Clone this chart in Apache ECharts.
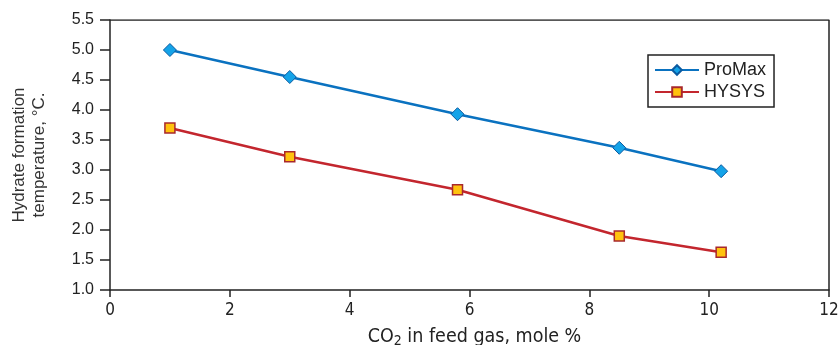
<!DOCTYPE html>
<html>
<head>
<meta charset="utf-8">
<script src="https://cdn.jsdelivr.net/npm/echarts@6/dist/echarts.min.js"></script>
<style>
  html, body { margin: 0; padding: 0; background: #fff; }
  #chart { width: 839px; height: 345px; }
</style>
</head>
<body>
<div id="chart"></div>
<script>
// values
const co2 = [1.0, 3.0, 5.8, 8.5, 10.2];
const promax = [5.0, 4.55, 3.93, 3.37, 2.98];
const hysys = [3.7, 3.22, 2.67, 1.9, 1.63];

const pair = (xs, ys) => xs.map((x, i) => [x, ys[i]]);

const chart = echarts.init(document.getElementById('chart'));
const font = 'Liberation Sans, Arial, sans-serif';
const narrow = 'Liberation Sans Narrow, DejaVu Sans Condensed, ' + font;

chart.setOption({
  animation: false,
  textStyle: { fontFamily: font },
  grid: { left: 110, right: 10, top: 20, bottom: 55, outerBoundsMode: 'none' },
  legend: {
    orient: 'vertical',
    left: 648,
    top: 55,
    padding: [6, 8, 6, 6],
    itemGap: 4,
    itemWidth: 44,
    itemHeight: 12,
    borderColor: '#222',
    borderWidth: 1.5,
    textStyle: { fontSize: 18, color: '#222', fontFamily: font },
    data: ['ProMax', 'HYSYS']
  },
  xAxis: {
    type: 'value',
    min: 0,
    max: 12,
    interval: 2,
    name: '{a|CO}{s|2}{a| in feed gas, mole %}',
    nameLocation: 'middle',
    nameGap: 35,
    nameTextStyle: {
      padding: [0, 0, 0, 10],
      rich: {
        a: { fontSize: 19.5, color: '#222', fontFamily: narrow },
        s: { fontSize: 14, color: '#222', padding: [9, 0, 0, 0], fontFamily: narrow }
      }
    },
    axisLine: { show: true, onZero: false, lineStyle: { color: '#222', width: 1.5 } },
    axisTick: { show: true, length: 7, lineStyle: { color: '#222', width: 1.5 } },
    axisLabel: { color: '#222', fontSize: 17, margin: 12, fontFamily: narrow },
    splitLine: { show: false }
  },
  yAxis: {
    type: 'value',
    min: 1.0,
    max: 5.5,
    interval: 0.5,
    name: 'Hydrate formation\ntemperature, °C.',
    nameLocation: 'middle',
    nameGap: 61,
    nameTextStyle: { fontSize: 17, color: '#333', lineHeight: 20, fontFamily: font },
    axisLine: { show: true, lineStyle: { color: '#222', width: 1.5 } },
    axisTick: { show: true, length: 10, lineStyle: { color: '#222', width: 1.5 } },
    axisLabel: {
      color: '#222',
      fontSize: 16,
      margin: 16,
      formatter: v => v.toFixed(1)
    },
    splitLine: { show: false }
  },
  series: [
    {
      name: 'ProMax',
      type: 'line',
      data: pair(co2, promax),
      symbol: 'diamond',
      symbolSize: 13,
      lineStyle: { color: '#0a72c0', width: 2.5 },
      itemStyle: { color: '#14a3e8', borderColor: '#0a5aa0', borderWidth: 1 }
    },
    {
      name: 'HYSYS',
      type: 'line',
      data: pair(co2, hysys),
      symbol: 'rect',
      symbolSize: 10,
      lineStyle: { color: '#c3262e', width: 2.5 },
      itemStyle: { color: '#ffc20e', borderColor: '#a8282c', borderWidth: 1.5 }
    },
    {
      // frame: top and right borders of the plot area
      type: 'line',
      data: [[0, 5.5], [12, 5.5], [12, 1.0]],
      symbol: 'none',
      silent: true,
      lineStyle: { color: '#222', width: 1.5 }
    }
  ]
});
</script>
</body>
</html>
